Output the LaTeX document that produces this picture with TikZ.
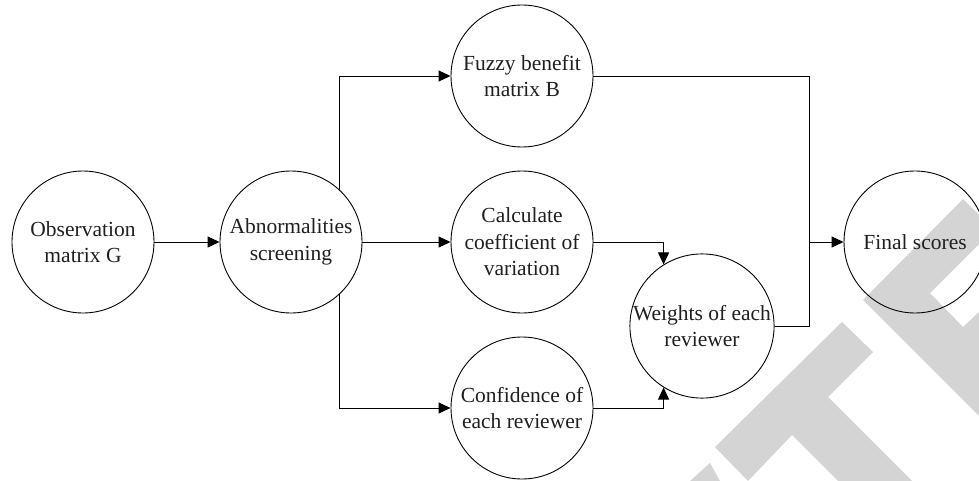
\documentclass[tikz,border=0pt]{standalone}
\usepackage{fontspec}
\setmainfont{Liberation Serif}
\usetikzlibrary{arrows.meta}
\definecolor{wmgray}{HTML}{D4D4D4}
\tikzset{
  bubble/.style={circle, draw=black, line width=0.9pt, minimum size=142pt, inner sep=0pt,
    align=center, font=\fontsize{21.5pt}{26.5pt}\selectfont, text=black!88},
  arr/.style={line width=0.9pt, -{Triangle[length=12pt,width=11pt]}},
  ln/.style={line width=0.9pt},
  wm/.style={fill=wmgray, draw=none}
}
\begin{document}
\begin{tikzpicture}[x=1pt,y=-1pt]
\useasboundingbox (0,0) rectangle (979,481);
% watermark
\fill[wm] (963,199) -- (979,215) -- (979,244) -- (930,293) -- (963,327) -- (979,312) -- (979,416) -- (863,300) -- cycle;
\fill[wm] (842,322) -- (873,352) -- (828,397) -- (912,481) -- (838,481) -- (792,435) -- (748,481) -- (715,447) -- cycle;
\fill[wm] (690,481) -- (710,463) -- (720,481) -- cycle;
% nodes
\node[bubble] (obs) at (83,242) {Observation\\matrix G};
\node[bubble] (abn) at (291,242) {Abnormalities\\screening};
\node[bubble] (fuz) at (522,76) {Fuzzy benefit\\matrix B};
\node[bubble] (calc) at (522,242) {Calculate\\coefficient of\\variation};
\node[bubble] (conf) at (522,408) {Confidence of\\each reviewer};
\node[bubble] (wts) at (702,326) {Weights of each\\reviewer};
\node[bubble] (fin) at (915,242) {Final scores};
\coordinate (j) at (809,242);
% connectors
\draw[arr] (obs.east) -- (abn.west);
\draw[arr] (abn.47.5) |- (fuz.west);
\draw[arr] (abn.east) -- (calc.west);
\draw[arr] (abn.-47.5) |- (conf.west);
\draw[arr] (calc.east) -| (wts.122.4);
\draw[arr] (conf.east) -| (wts.-122.4);
\draw[ln] (fuz.east) -| (j);
\draw[ln] (wts.east) -| (j);
\draw[arr] (j) -- (fin.west);
\end{tikzpicture}
\end{document}
